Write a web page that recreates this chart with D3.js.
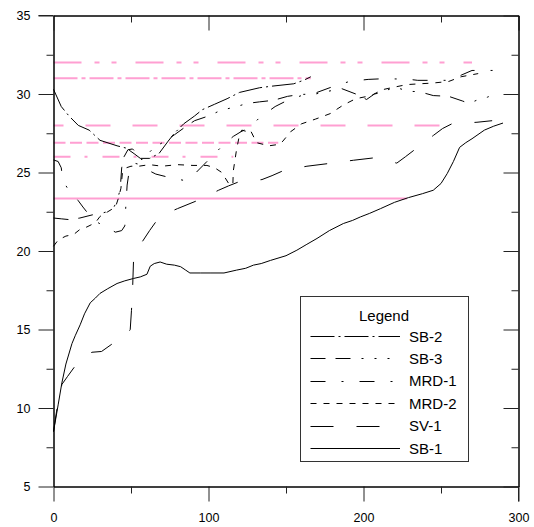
<!DOCTYPE html>
<html>
<head>
<meta charset="utf-8">
<script src="https://cdn.jsdelivr.net/npm/d3@7"></script>
<style>
  body { margin: 0; background: #fff; }
  svg { display: block; font-family: "Liberation Sans", Arial, sans-serif; }
</style>
</head>
<body>
<svg id="chart" width="534" height="527"></svg>
<script>
// tick values
const xTicks = [0, 100, 200, 300];
const xMinor = [50, 150, 250];
const yTicks = [5, 10, 15, 20, 25, 30, 35];
const yMinor = [7.5, 12.5, 17.5, 22.5, 27.5, 32.5];

// series, [x, y]
const sb1 = [[0,8.5],[3,10.2],[5.4,11.6],[8,12.8],[11.9,14.1],[14,14.6],[17.2,15.3],[20,16.0],[23.7,16.7],[27,17.0],[30,17.3],[35,17.6],[41,17.93],[46,18.1],[51.6,18.25],[56,18.35],[60.3,18.52],[62.4,19.03],[65,19.2],[68.8,19.3],[73,19.16],[78,19.1],[82,19.0],[85,18.8],[88,18.6],[95,18.6],[101,18.6],[110,18.6],[118,18.78],[124,18.9],[129,19.1],[134,19.2],[140,19.4],[150,19.7],[157,20.05],[163,20.4],[170,20.8],[178,21.3],[187,21.75],[193,21.95],[198,22.17],[204,22.4],[211,22.7],[220,23.1],[229,23.4],[238,23.65],[245,23.87],[250,24.3],[254,24.93],[258,25.7],[262,26.6],[266,26.9],[270,27.15],[278,27.7],[284,27.95],[290,28.15]];
const sv1 = [[0,8.5],[2,9.8],[5.4,11.5],[9,12.0],[13.4,12.6],[18,13.2],[24.8,13.55],[31,13.6],[37.7,14.07],[43,14.3],[47,14.6],[49.5,15.0],[50.3,16.2],[51,17.5],[51.6,19.3],[53,20.0],[58,20.7],[62,21.3],[66.7,21.95],[73,22.4],[80,22.7],[92.5,23.2],[100,23.55],[106.5,23.87],[113,24.15],[119.4,24.4],[127,24.45],[134.5,24.55],[141,24.8],[147.4,25.08],[155,25.25],[163.5,25.4],[177.4,25.57],[193.5,25.78],[206.5,25.93],[214,25.75],[221.5,25.6],[227,26.0],[232.3,26.4],[239,26.9],[245.2,27.37],[251,27.8],[257,28.1],[265,28.15],[273.2,28.2],[283,28.3]];
const sb2 = [[0,30.3],[5,29.2],[10,28.6],[16,28.0],[23,27.7],[30,27.05],[41,26.7],[47,26.55],[52,26.2],[56,25.9],[62,25.9],[68,26.2],[74,27.0],[78,27.5],[84,28.1],[91,28.6],[96,29.0],[104,29.35],[112,29.7],[120,30.1],[133,30.4],[141,30.5],[155,30.65],[162,30.9],[166,31.1]];
const sb3 = [[0,22.1],[5,22.05],[10,22.0],[17,22.1],[25,22.3],[31,22.4],[38,22.6],[41,23.2],[43,23.9],[44,25.3],[45.5,26.0],[48,26.45],[51,26.5],[54,26.2],[57,25.8],[60,26.1],[65,26.6],[72,27.0],[78,27.4],[85,27.9],[91,28.3],[100,28.6],[108,28.96],[117,29.17],[125,29.4],[133,29.5],[142,29.6],[151,29.85],[159,29.97],[169,30.0],[177,30.17],[186,30.34],[195,30.0],[202,29.65],[207,30.0],[212,30.1],[220,30.45],[229,30.17],[236,30.15],[245,29.9],[255,29.85],[264,29.55],[268,29.4],[273,29.6],[280,29.8],[286,30.06]];
const mrd1 = [[0,25.8],[3,25.7],[5,25.3],[6,24.5],[9,24.0],[12,23.7],[16,23.2],[19,22.8],[23,22.3],[28,21.85],[34,21.5],[40,21.2],[44,21.3],[46,21.6],[46.5,22.6],[47.5,24.2],[49,25.2],[52,25.6],[56,25.5],[60,25.2],[66,24.9],[74,24.7],[84,24.5],[92,25.0],[100,25.8],[110,26.8],[116,27.3],[121,27.6],[127,27.9],[133,28.5],[143,29.2],[151,29.6],[160,29.9],[170,30.1],[181,30.5],[191,30.8],[203,30.93],[212,30.97],[228,30.95],[235,30.87],[255,30.87],[263,31.2],[270,31.5],[286,31.5]];
const mrd2 = [[0,20.3],[3,20.7],[8,20.95],[13,21.05],[17,21.37],[21.5,21.53],[27,21.8],[30,22.2],[35,22.5],[40,22.8],[42,23.4],[43.5,24.0],[44.5,25.0],[47,25.3],[50,25.4],[55,25.4],[62,25.5],[70,25.4],[80,25.5],[90,25.45],[99,25.45],[104,25.3],[108.6,25.0],[113,24.3],[115.7,24.2],[116,25.1],[118,26.4],[120,27.4],[121.5,27.7],[125,27.6],[127,27.7],[131,26.9],[139,26.7],[146,26.8],[148,27.0],[153,27.6],[160,28.1],[169,28.4],[178.5,28.75],[187,29.3],[195,29.7],[205,29.9],[212,30.27],[218,30.4],[228,30.6],[245,30.7],[255,30.8],[263,31.1],[274,31.3]];

// pink reference lines: level and where each stops
const refLevels = [32, 31, 28, 26.9, 26, 23.35];
const refEnds = [270, 166, 256, 145, 116, 228];

const legendNames = ['SB-2', 'SB-3', 'MRD-1', 'MRD-2', 'SV-1', 'SB-1'];

// styles
const dashes = {
  'SB-2': '24,4,2,4',
  'SB-3': '15,10,15,11,2,11,2,11,2,11',
  'MRD-1': '15,16,2,16',
  'MRD-2': '6,7',
  'SV-1': '23,23',
  'SB-1': null
};
const refDashes = ['28,13,5,12,5,19', '24,4,4,4', '25,22', '12,4.5', '17,14,3,15', null];
const refOffsets = [0, 0, 15, 0, 0, 0];

const svg = d3.select('#chart');
const x = d3.scaleLinear().domain([0, 300]).range([53.5, 518.5]);
const y = d3.scaleLinear().domain([5, 35]).range([486.5, 15.5]);

// pink reference lines
refLevels.forEach((lv, i) => {
  svg.append('line')
    .attr('x1', x(0)).attr('x2', x(refEnds[i]))
    .attr('y1', y(lv)).attr('y2', y(lv))
    .attr('stroke', '#ff9fd2')
    .attr('stroke-width', 2)
    .attr('stroke-dasharray', refDashes[i])
    .attr('stroke-dashoffset', refOffsets[i]);
});

// series
const line = d3.line().x(d => x(d[0])).y(d => y(d[1]));
const seriesList = [['SB-2', sb2], ['SB-3', sb3], ['MRD-1', mrd1], ['MRD-2', mrd2], ['SV-1', sv1], ['SB-1', sb1]];
seriesList.forEach(([name, data]) => {
  svg.append('path')
    .datum(data)
    .attr('d', line)
    .attr('fill', 'none')
    .attr('stroke', '#000')
    .attr('stroke-width', 1)
    .attr('stroke-dasharray', dashes[name]);
});

// axes
function styleAxis(g) {
  g.select('.domain').attr('stroke', '#000');
  g.selectAll('.tick line').attr('stroke', '#222');
  g.selectAll('text').attr('fill', '#000').style('font-size', '12.5px')
    .style('font-family', '"Liberation Sans", Arial, sans-serif');
}
svg.append('g').attr('transform', `translate(${x(0)},0)`)
  .call(d3.axisLeft(y).tickValues(yTicks).tickSize(15).tickSizeOuter(0).tickPadding(8))
  .call(styleAxis);
svg.append('g').attr('transform', `translate(${x(0)},0)`)
  .call(d3.axisLeft(y).tickValues(yMinor).tickSize(7).tickSizeOuter(0).tickFormat(''))
  .call(styleAxis);
svg.append('g').attr('transform', `translate(0,${y(5)})`)
  .call(d3.axisBottom(x).tickValues(xTicks).tickSize(15).tickSizeOuter(0).tickPadding(12))
  .call(styleAxis);
svg.append('g').attr('transform', `translate(0,${y(5)})`)
  .call(d3.axisBottom(x).tickValues(xMinor).tickSize(7).tickSizeOuter(0).tickFormat(''))
  .call(styleAxis);
svg.append('g').attr('transform', `translate(0,${y(35)})`)
  .call(d3.axisTop(x).tickValues(xTicks).tickSize(-15).tickSizeOuter(0).tickFormat(''))
  .call(styleAxis);
svg.append('g').attr('transform', `translate(0,${y(35)})`)
  .call(d3.axisTop(x).tickValues(xMinor).tickSize(-7).tickSizeOuter(0).tickFormat(''))
  .call(styleAxis);
svg.append('g').attr('transform', `translate(${x(300)},0)`)
  .call(d3.axisRight(y).tickValues(yTicks).tickSize(-15).tickSizeOuter(0).tickFormat(''))
  .call(styleAxis);
svg.append('g').attr('transform', `translate(${x(300)},0)`)
  .call(d3.axisRight(y).tickValues(yMinor).tickSize(-7).tickSizeOuter(0).tickFormat(''))
  .call(styleAxis);
// outer tick stubs at the corners
svg.append('line').attr('x1', x(0) - 15).attr('x2', x(0)).attr('y1', y(35)).attr('y2', y(35)).attr('stroke', '#222');
svg.append('line').attr('x1', x(300)).attr('x2', x(300)).attr('y1', y(5)).attr('y2', y(5) + 15).attr('stroke', '#222');

// legend
const lg = svg.append('g');
lg.append('rect')
  .attr('x', 300.5).attr('y', 296.5).attr('width', 168).attr('height', 165)
  .attr('fill', '#fff').attr('stroke', '#333').attr('stroke-width', 1);
lg.append('text')
  .attr('x', 384).attr('y', 321)
  .attr('text-anchor', 'middle')
  .style('font-size', '15px')
  .text('Legend');
legendNames.forEach((name, i) => {
  const yy = 336 + i * 22.4;
  lg.append('line')
    .attr('x1', 310.5).attr('x2', 400)
    .attr('y1', Math.round(yy) + 0.5).attr('y2', Math.round(yy) + 0.5)
    .attr('stroke', '#000').attr('stroke-width', 1)
    .attr('stroke-dasharray', dashes[name]);
  lg.append('text')
    .attr('x', 409).attr('y', yy + 5.5)
    .style('font-size', '15px')
    .text(name);
});
</script>
</body>
</html>
